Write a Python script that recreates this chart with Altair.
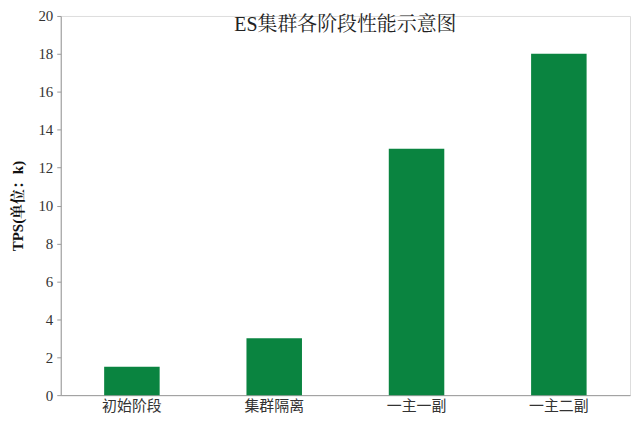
import altair as alt
import pandas as pd

categories = ["初始阶段", "集群隔离", "一主一副", "一主二副"]
tps = [1.5, 3, 13, 18]

df = pd.DataFrame({"stage": categories, "tps": tps})

FONT = "Liberation Serif, Noto Serif CJK SC, Noto Sans CJK SC"

chart = alt.Chart(df).mark_bar(color="#0a8440").encode(
    x=alt.X("stage:N", sort=categories,
            scale=alt.Scale(paddingInner=0.61, paddingOuter=0.305),
            axis=alt.Axis(title=None, labelAngle=0, ticks=False, domainColor="#999999",
                          labelFont="Noto Sans CJK SC", labelFontSize=15, labelColor="#333333",
                          labelPadding=3)),
    y=alt.Y("tps:Q", scale=alt.Scale(domain=[0, 20]),
            axis=alt.Axis(title="TPS(单位：k)", values=list(range(0, 21, 2)), grid=False,
                          tickSize=4, tickColor="#999999", domainColor="#999999",
                          labelFont="Liberation Serif", labelFontSize=15, labelColor="#333333",
                          labelPadding=4,
                          titleFont=FONT, titleFontSize=15, titleFontWeight="bold",
                          titleColor="#111111", titlePadding=12)),
).properties(
    width=572, height=381,
    title=alt.TitleParams("ES集群各阶段性能示意图", font=FONT, fontSize=20,
                          fontWeight="normal", color="#222222", anchor="middle", dy=30),
    padding={"left": 53, "top": 7, "right": 2, "bottom": 26},
    autosize=alt.AutoSizeParams(type="none"),
).configure_view(stroke=None).configure(background="white")

chart.save("out.html", embed_options={"renderer": "svg", "actions": False})
